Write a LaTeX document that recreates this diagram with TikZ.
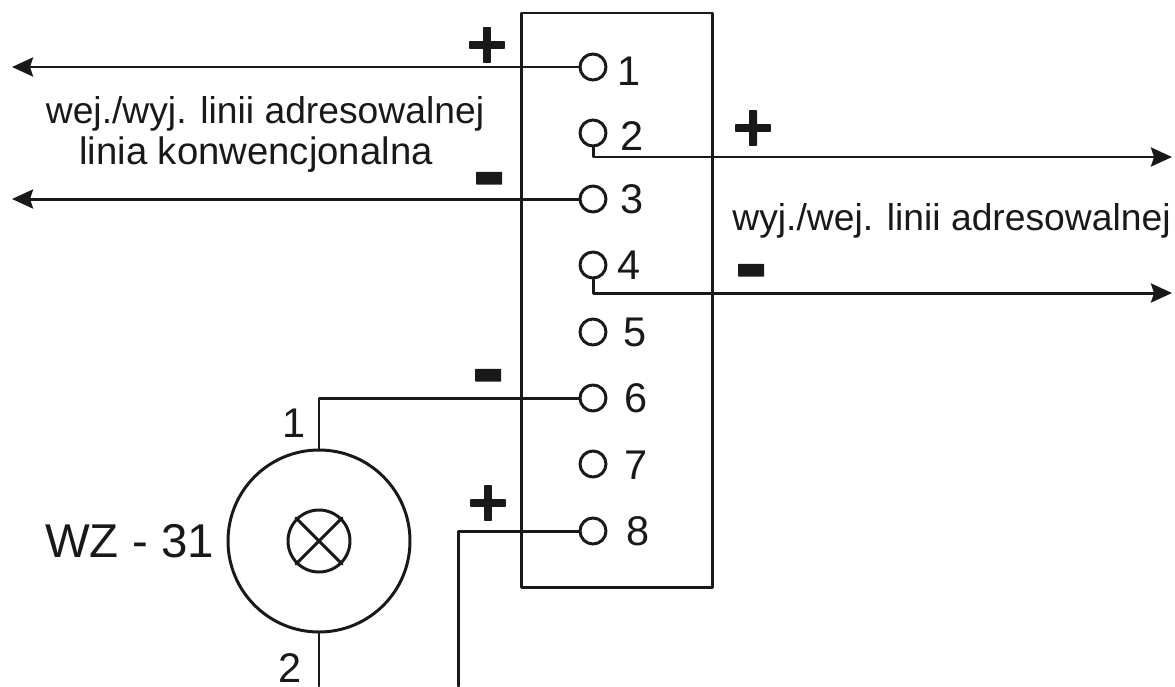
\documentclass[tikz,border=0pt]{standalone}
\usepackage{fontspec}
\setmainfont{Liberation Sans}
\newfontfamily\signfont{DejaVu Sans}[FakeBold=3]
\newfontfamily\dashfont{DejaVu Sans}[FakeBold=1.5]
\usetikzlibrary{arrows.meta}
\tikzset{>={Stealth[length=2.1mm,width=1.9mm,inset=0.3mm]}}
\tikzset{
	wire/.style={line width=0.85pt,black!90},
	term/.style={circle,draw=black!90,line width=0.85pt,minimum size=2.6mm,inner sep=0pt},
	num/.style={font=\fontsize{11.8}{11.8}\selectfont,black!90,inner sep=0pt},
	txt/.style={font=\fontsize{10.6}{10.6}\selectfont,black!90,inner sep=0pt},
	plussign/.style={font=\signfont\bfseries\fontsize{15.5}{15.5}\selectfont,black!90,inner sep=0pt},
	minussign/.style={font=\dashfont\bfseries\fontsize{23}{23}\selectfont,black!90,inner sep=0pt}
}
\begin{document}
\begin{tikzpicture}[line cap=round,line join=round,x=1.0cm,y=1.0cm]
		\useasboundingbox (0,0) rectangle (11.75,6.86);
		\draw[wire] (5.21,0.99) rectangle (7.12,6.73);
		% terminals and their numbers
		\foreach \n/\x/\y in {1/6.29/6.15,2/6.32/5.50,3/6.32/4.87,4/6.29/4.21,5/6.35/3.54,6/6.36/2.88,7/6.36/2.21,8/6.38/1.55}
		\node[num] (n\n) at (\x,\y) {\n};
		\foreach \n/\y in {1/6.19,2/5.53,3/4.87,4/4.21,5/3.54,6/2.88,7/2.22,8/1.55}
		\node[term] (t\n) at (5.93,\y) {};
		% lamp
		\node[circle,draw=black!90,line width=0.85pt,minimum size=18.2mm,inner sep=0pt] (lamp) at (3.19,1.45) {};
		\node[circle,draw=black!90,line width=0.85pt,minimum size=6.2mm,inner sep=0pt] (bulb) at (3.19,1.45) {};
		\draw[wire] (bulb.north west) -- (bulb.south east);
		\draw[wire] (bulb.north east) -- (bulb.south west);
		% free ends
		\coordinate (la) at (0.12,6.19);
		\coordinate (lb) at (0.12,4.87);
		\coordinate (ra) at (11.72,5.29);
		\coordinate (rb) at (11.72,3.93);
		\coordinate (ba) at (3.19,0);
		\coordinate (bb) at (4.58,0);
		% wires
		\draw[->,wire] (t1.west) -- (la);
		\draw[->,wire] (t3.west) -- (lb);
		\draw[->,wire] (t2.south) |- (ra);
		\draw[->,wire] (t4.south) |- (rb);
		\draw[wire] (lamp.north) |- (t6.west);
		\draw[wire] (lamp.south) -- (ba);
		\draw[wire] (t8.west) -| (bb);
		% signs
		\node[plussign] (pa) at (4.87,6.41) {+};
		\node[plussign] (pb) at (7.53,5.58) {+};
		\node[plussign] (pc) at (4.88,1.83) {+};
		\node[minussign] (ma) at (4.89,4.99) {-};
		\node[minussign] (mb) at (7.51,4.07) {-};
		\node[minussign] (mc) at (4.88,3.02) {-};
		% texts
		\node[txt] (wej) at (2.65,5.72) {wej./wyj. linii adresowalnej};
		\node[txt,font=\fontsize{10.9}{10.9}\selectfont] (kon) at (2.56,5.31) {linia konwencjonalna};
		\node[txt] (wyj) at (9.515,4.65) {wyj./wej. linii adresowalnej};
		\node[font=\fontsize{13.5}{13.5}\selectfont,black!90,inner sep=0pt] (wz) at (1.295,1.45) {WZ - 31};
		\node[num] (la1) at (2.94,2.63) {1};
		\node[num] (la2) at (2.90,0.18) {2};
\end{tikzpicture}
\end{document}
